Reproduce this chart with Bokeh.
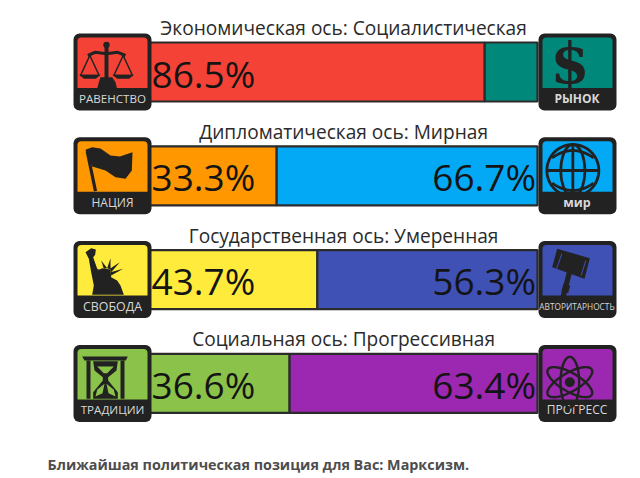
import numpy as np
from bokeh.core.properties import value
from bokeh.embed import file_html
from bokeh.models import Range1d
from bokeh.plotting import figure
from bokeh.resources import INLINE

# ---- data -------------------------------------------------------------
axis_titles = ["Экономическая ось: Социалистическая", "Дипломатическая ось: Мирная",
               "Государственная ось: Умеренная", "Социальная ось: Прогрессивная"]
left_values = [86.5, 33.3, 43.7, 36.6]
right_values = [13.5, 66.7, 56.3, 63.4]
left_names = ["РАВЕНСТВО", "НАЦИЯ", "СВОБОДА", "ТРАДИЦИИ"]
right_names = ["РЫНОК", "мир", "АВТОРИТАРНОСТЬ", "ПРОГРЕСС"]
footer = "Ближайшая политическая позиция для Вас: Марксизм."

# ---- style ------------------------------------------------------------
left_colors = ["#f44336", "#ff9800", "#ffeb3b", "#8bc34a"]
right_colors = ["#00897b", "#03a9f4", "#3f51b5", "#9c27b0"]
DARK = "#222222"
BORDER = "#2b2b2b"
rows = list(range(4))

p = figure(width=640, height=478, output_backend="svg", toolbar_location=None,
           x_range=Range1d((0 - 146) / 3.91, (640 - 146) / 3.91),
           y_range=Range1d((478 - 71.5) / 103.8, (0 - 71.5) / 103.8),
           min_border=0, background_fill_color="white", border_fill_color="white")
p.axis.visible = False
p.grid.visible = False
p.outline_line_color = None
# A second pair of scales in page pixels, for the pictograms and captions
p.extra_x_ranges["px"] = Range1d(0, 640)
p.extra_y_ranges["px"] = Range1d(478, 0)
PX = dict(x_range_name="px", y_range_name="px")

bar_h = 59 / 103.8
p.hbar(y=rows, left=0, right=left_values, height=bar_h, fill_color=left_colors,
       line_color=BORDER, line_width=2.2)
p.hbar(y=rows, left=left_values, right=100, height=bar_h, fill_color=right_colors,
       line_color=BORDER, line_width=2.2)

NUM = dict(text_font=value("Open Sans"), text_font_size="37px", text_color="#141414",
           text_baseline="middle")
p.text(x=[0] * 4, y=rows, text=[f"{v:.1f}%" for v in left_values], text_align="left",
       x_offset=5, y_offset=1, **NUM)
rv = [(r, v) for r, v in zip(rows, right_values) if v >= 30]
p.text(x=[100] * len(rv), y=[r for r, _ in rv], text=[f"{v:.1f}%" for _, v in rv],
       text_align="right", x_offset=-1.5, y_offset=1, **NUM)
p.text(x=[50.4] * 4, y=rows, text=axis_titles, text_align="center", text_baseline="middle",
       y_offset=-44, text_font=value("Open Sans"), text_font_size="19.1px", text_color="#2a2a2a")
p.text(x=[47], y=[463.5], text=[footer], text_font=value("Open Sans"), text_font_size="14.35px",
       text_font_style="bold", text_color="#4d4d4d", text_baseline="middle", **PX)


def poly(ox, oy, pts, color=DARK):
    a = np.array(pts, float)
    p.patch(ox + a[:, 0] / 3, oy + a[:, 1] / 3, fill_color=color, line_color=None, **PX)


def stroke(ox, oy, pts, w=2.5, color=DARK):
    a = np.array(pts, float)
    p.line(ox + a[:, 0] / 3, oy + a[:, 1] / 3, line_color=color, line_width=w, **PX)


def ell(cx, cy, rx, ry, ang=0.0):
    t = np.linspace(0, 2 * np.pi, 73)
    x, y = rx * np.cos(t), ry * np.sin(t)
    c, s = np.cos(ang), np.sin(ang)
    return np.c_[cx + x * c - y * s, cy + x * s + y * c]


def tile(x0, i, fill):
    c = 71.5 + 103.8 * i
    p.quad(left=x0, right=x0 + 78, top=c - 38.5, bottom=c + 38.5, fill_color=DARK,
           line_color=None, border_radius=6, **PX)
    p.quad(left=x0 + 4, right=x0 + 74, top=c - 34.5, bottom=c + 16, fill_color=fill,
           line_color=None, border_radius=dict(top_left=4, top_right=4, bottom_left=0, bottom_right=0), **PX)


for i in rows:
    tile(73, i, left_colors[i])
    tile(538, i, right_colors[i])

LBL = dict(text_color="#d8d8d8", text_align="center", text_baseline="middle")
sizes_l = ["11.6px", "12px", "12.4px", "11.6px"]
sizes_r = ["12px", "12.5px", "8.3px", "12px"]
styles_r = ["bold", "bold", "normal", "normal"]
for i in rows:
    yc = 71.5 + 103.8 * i + 26.5
    p.text(x=[112], y=[yc], text=[left_names[i]], text_font=value("Open Sans"),
           text_font_size=sizes_l[i], **LBL, **PX)
    p.text(x=[576.5], y=[yc], text=[right_names[i]], text_font=value("Open Sans"),
           text_font_size=sizes_r[i], text_font_style=styles_r[i], **LBL, **PX)

# scales (crop origin 60,10)
o = (60, 10)
stroke(*o, [(138, 105), (138, 215)], 4)
p.circle(x=[60 + 138 / 3], y=[10 + 103 / 3], radius=3.2, fill_color=DARK, line_color=None, **PX)
stroke(*o, [(82, 135), (105, 125), (138, 130), (170, 125), (195, 135)], 3)
poly(*o, [(120, 200), (155, 200), (165, 215), (170, 235), (110, 235), (115, 215)])
for cx in (88, 188):
    stroke(*o, [(cx, 135), (cx - 28, 195), (cx + 28, 195), (cx, 135)], 1.5)
    poly(*o, [(cx - 32, 193), (cx + 32, 193), (cx + 18, 205), (cx - 18, 205)])

# dollar (crop origin 440,10)
p.text(x=[569.5], y=[62], text=["$"], text_font=value("DejaVu Serif"),
       text_font_style="bold", text_font_size="56px", text_color=DARK, text_align="center",
       text_baseline="middle", **PX)

# flag (crop origin 60,120)
o = (60, 120)
stroke(*o, [(80, 92), (105, 212)], 3.2)
poly(*o, [(75, 88), (95, 80), (120, 84), (150, 105), (178, 108), (216, 95), (214, 150), (195, 175),
          (165, 170), (135, 150), (108, 142), (95, 138)])

# globe (crop origin 440,120)
o = (440, 120)
for e in (ell(397, 150, 78, 78), ell(397, 150, 36, 78)):
    stroke(*o, e.tolist(), 2.8)
stroke(*o, [(397, 72), (397, 228)], 2.8)
stroke(*o, [(319, 150), (475, 150)], 2.8)
for y0, y1 in ((112, 90), (188, 210)):
    xs = np.linspace(335, 459, 15)
    stroke(*o, np.c_[xs, y0 + (y1 - y0) * (1 - ((xs - 397) / 62) ** 2)].tolist(), 2.8)

# statue (crop origin 60,225)
o = (60, 225)
poly(*o, [(75, 80), (92, 68), (106, 72), (104, 88), (98, 95), (112, 135), (125, 128), (150, 132),
          (152, 155), (170, 165), (180, 180), (190, 208), (95, 208), (100, 180), (92, 140), (85, 100)])
for q in ([(126, 136), (105, 128), (128, 146)], [(130, 130), (122, 105), (140, 128)],
          [(140, 128), (150, 98), (150, 132)], [(148, 130), (178, 110), (152, 140)],
          [(150, 140), (188, 130), (152, 150)]):
    poly(*o, q)

# gavel (crop origin 440,225)
o = (440, 225)
poly(*o, [(350, 70), (448, 98), (432, 160), (335, 125)])
stroke(*o, [(364, 85), (348, 130)], 1, right_colors[2])
stroke(*o, [(436, 105), (422, 150)], 1, right_colors[2])
stroke(*o, [(388, 135), (367, 218)], 5.2)
stroke(*o, [(379, 178), (373, 200)], 7)

# hourglass (crop origin 60,330)
o = (60, 330)
poly(*o, [(65, 78), (202, 78), (196, 90), (72, 90)])
stroke(*o, [(84, 90), (84, 205)], 4)
stroke(*o, [(186, 90), (186, 205)], 4)
poly(*o, [(98, 92), (172, 92), (168, 120), (143, 140), (143, 150), (172, 185), (172, 205), (98, 205),
          (98, 185), (127, 150), (127, 140), (102, 120)])
poly(*o, [(110, 108), (160, 108), (140, 128), (130, 128)], left_colors[3])
poly(*o, [(132, 160), (110, 178), (105, 198), (126, 188)], left_colors[3])
poly(*o, [(138, 160), (160, 178), (165, 198), (144, 188)], left_colors[3])

# atom (crop origin 440,330)
o = (440, 330)
for a in (np.pi / 2, np.pi / 6, -np.pi / 6):
    stroke(*o, ell(388, 155, 76, 28, a).tolist(), 2.4)
p.circle(x=[440 + 388 / 3], y=[330 + 155 / 3], radius=5, fill_color=DARK, line_color=None, **PX)

open("out.html", "w").write(file_html(p, INLINE))
